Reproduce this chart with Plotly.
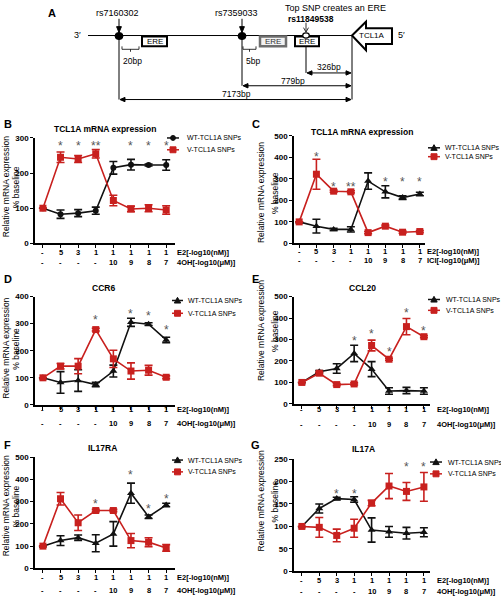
import plotly.graph_objects as go

W, H = 501, 600
def X(p): return p / W
def Y(p): return 1 - p / H

FONT = "Liberation Sans, Arial, sans-serif"
RED = "#c8201e"
BLACK = "#111111"

# ---------------- data ----------------
row1 = ["-", "5", "3", "1", "1", "1", "1", "1"]
row2 = ["-", "-", "-", "-", "10", "9", "8", "7"]
idx = list(range(8))

series_names = ["WT-TCL1A SNPs", "V-TCL1A SNPs"]

b_wt = [100, 83, 86, 93, 215, 224, 223, 223]
b_wt_err = [None, 12, 10, 10, 18, 15, 3, 15]
b_v = [100, 245, 240, 255, 122, 98, 100, 95]
b_v_err = [None, 15, 10, 12, 15, 8, 10, 12]
b_star_x = [1, 2, 3, 5, 6, 7]
b_star_y = [285, 285, 285, 285, 285, 285]
b_star_t = ["*", "*", "**", "*", "*", "*"]

c_wt = [100, 80, 65, 65, 290, 240, 213, 230]
c_wt_err = [None, 32, 5, 12, 38, 28, 8, 8]
c_v = [100, 322, 243, 240, 50, 80, 52, 55]
c_v_err = [None, 70, 5, 5, 5, 5, 5, 5]
c_star_x = [1, 2, 3, 5, 6, 7]
c_star_y = [418, 275, 275, 300, 300, 300]
c_star_t = ["*", "*", "**", "*", "*", "*"]

d_wt = [100, 83, 90, 75, 125, 305, 298, 240]
d_wt_err = [None, 40, 40, 8, 22, 15, 5, 10]
d_v = [100, 143, 143, 278, 170, 125, 128, 102]
d_v_err = [None, 10, 28, 5, 32, 30, 18, 5]
d_star_x = [3, 5, 6, 7]
d_star_y = [323, 345, 341, 289]
d_star_t = ["*", "*", "*", "*"]

e_wt = [100, 150, 165, 235, 162, 60, 62, 60]
e_wt_err = [None, 5, 22, 38, 35, 15, 15, 15]
e_v = [100, 143, 90, 93, 272, 208, 360, 313]
e_v_err = [None, 5, 5, 5, 25, 5, 38, 5]
e_star_x = [3, 4, 5, 6, 7]
e_star_y = [309, 340, 256, 439, 355]
e_star_t = ["*", "*", "*", "*", "*"]

f_wt = [100, 125, 138, 113, 155, 338, 232, 285]
f_wt_err = [None, 22, 12, 38, 55, 45, 8, 8]
f_v = [100, 313, 205, 260, 260, 125, 118, 92]
f_v_err = [None, 28, 35, 5, 5, 32, 20, 15]
f_star_x = [3, 5, 6, 7]
f_star_y = [301, 434, 279, 326]
f_star_t = ["*", "*", "*", "*"]

g_wt = [100, 140, 162, 160, 92, 88, 85, 87]
g_wt_err = [None, 10, 3, 6, 27, 12, 13, 10]
g_v = [100, 98, 80, 96, 152, 190, 178, 188]
g_v_err = [None, 22, 14, 20, 6, 28, 20, 32]
g_star_x = [2, 3, 6, 7]
g_star_y = [180, 180, 240, 240]
g_star_t = ["*", "*", "*", "*"]

# ---------------- panel layout (pixels) ----------------
panels = [
    dict(key="B", title="TCL1A mRNA expression", wt=b_wt, wte=b_wt_err, v=b_v, ve=b_v_err,
         sx=b_star_x, sy=b_star_y, st=b_star_t, ymax=300, dtick=100, wtsym="circle",
         xd=(35, 175), xr=(-0.45, 7.5), yd=(136, 243), titley=127, titlex=105,
         rows=(252, 262), labx=175, r2="4OH[-log10(\u03bcM)]",
         leg=(167, 179, 185, 136, 148), ytx=(6, 16), yty=186, letter=(8, 122)),
    dict(key="C", title="TCL1A mRNA expression", wt=c_wt, wte=c_wt_err, v=c_v, ve=c_v_err,
         sx=c_star_x, sy=c_star_y, st=c_star_t, ymax=500, dtick=100, wtsym="triangle-up",
         xd=(294, 425), xr=(-0.3, 7.3), yd=(134, 243), titley=130, titlex=362,
         rows=(251, 260), labx=425, r2="ICI[-log10(\u03bcM)]",
         leg=(428, 440, 443, 146, 155), ytx=(261, 275), yty=192, letter=(256, 122)),
    dict(key="D", title="CCR6", wt=d_wt, wte=d_wt_err, v=d_v, ve=d_v_err,
         sx=d_star_x, sy=d_star_y, st=d_star_t, ymax=400, dtick=100, wtsym="triangle-up",
         xd=(35, 175), xr=(-0.45, 7.5), yd=(297, 407), titley=288, titlex=103,
         rows=(412, 426), labx=175, r2="4OH[-log10(\u03bcM)]",
         leg=(172, 183, 186, 301, 314), ytx=(6, 16), yty=350, letter=(8, 279)),
    dict(key="E", title="CCL20", wt=e_wt, wte=e_wt_err, v=e_v, ve=e_v_err,
         sx=e_star_x, sy=e_star_y, st=e_star_t, ymax=500, dtick=100, wtsym="triangle-up",
         xd=(294, 430), xr=(-0.45, 7.35), yd=(297, 406), titley=288, titlex=362,
         rows=(412, 427), labx=435, r2="4OH[-log10(\u03bcM)]",
         leg=(428, 440, 444, 300, 311), ytx=(261, 275), yty=332, letter=(256, 279)),
    dict(key="F", title="IL17RA", wt=f_wt, wte=f_wt_err, v=f_v, ve=f_v_err,
         sx=f_star_x, sy=f_star_y, st=f_star_t, ymax=500, dtick=100, wtsym="triangle-up",
         xd=(35, 175), xr=(-0.45, 7.5), yd=(460, 573), titley=451, titlex=102,
         rows=(582, 595), labx=175, r2="4OH[-log10(\u03bcM)]",
         leg=(172, 183, 186, 463, 475), ytx=(6, 16), yty=510, letter=(8, 448)),
    dict(key="G", title="IL17A", wt=g_wt, wte=g_wt_err, v=g_v, ve=g_v_err,
         sx=g_star_x, sy=g_star_y, st=g_star_t, ymax=250, dtick=50, wtsym="triangle-up",
         xd=(294, 430), xr=(-0.45, 7.35), yd=(462, 576), titley=452, titlex=363,
         rows=(585, 596), labx=435, r2="4OH[-log10(\u03bcM)]",
         leg=(430, 442, 446, 465, 477), ytx=(261, 275), yty=505, letter=(256, 448)),
]

fig = go.Figure()
annotations = []
shapes = []

def ann(x, y, text, size=8, bold=False, color="black", xanchor="center", yanchor="middle",
        angle=0, xref="paper", yref="paper", yshift=0):
    annotations.append(dict(x=x, y=y, xref=xref, yref=yref, text=text, showarrow=False,
                            xanchor=xanchor, yanchor=yanchor, textangle=angle, yshift=yshift,
                            font=dict(family=FONT, size=size, color=color,
                                      weight="bold" if bold else "normal")))

def pline(x0, y0, x1, y1, color="black", width=1):
    shapes.append(dict(type="line", xref="paper", yref="paper", x0=X(x0), y0=Y(y0),
                       x1=X(x1), y1=Y(y1), line=dict(color=color, width=width)))

def ppath(pts, fill="black", color="black", width=1, close=True):
    d = "M " + " L ".join(f"{X(a):.5f} {Y(b):.5f}" for a, b in pts) + (" Z" if close else "")
    shapes.append(dict(type="path", xref="paper", yref="paper", path=d,
                       fillcolor=fill if close else None, line=dict(color=color, width=width)))

def prect(x0, y0, x1, y1, color="black", width=1, fill="white"):
    shapes.append(dict(type="rect", xref="paper", yref="paper", x0=X(x0), y0=Y(y0),
                       x1=X(x1), y1=Y(y1), line=dict(color=color, width=width), fillcolor=fill))

def pcirc(cx, cy, rx, ry, color="black", fill="black", width=1):
    shapes.append(dict(type="circle", xref="paper", yref="paper", x0=X(cx - rx), y0=Y(cy - ry),
                       x1=X(cx + rx), y1=Y(cy + ry), line=dict(color=color, width=width), fillcolor=fill))

for n, p in enumerate(panels, start=1):
    xa = "x" if n == 1 else f"x{n}"
    ya = "y" if n == 1 else f"y{n}"
    for vals, errs, color, sym, size, name in [
        (p["wt"], p["wte"], BLACK, p["wtsym"], 6 if p["wtsym"] == "circle" else 7, series_names[0]),
        (p["v"], p["ve"], RED, "square", 7, series_names[1]),
    ]:
        fig.add_trace(go.Scatter(
            x=idx, y=vals, xaxis=xa, yaxis=ya, mode="lines+markers", name=name,
            showlegend=False, cliponaxis=False,
            line=dict(color=color, width=1.6),
            marker=dict(symbol=sym, size=size, color=color),
            error_y=dict(type="data", array=errs, visible=True, color=color,
                         thickness=1.6, width=4),
        ))
    xd, yd = p["xd"], p["yd"]
    fig.layout[("xaxis" if n == 1 else f"xaxis{n}")] = dict(
        domain=[X(xd[0]), X(xd[1])], range=list(p["xr"]), anchor=ya,
        showline=True, linecolor="black", linewidth=1.5, ticks="outside", ticklen=3,
        tickwidth=1.2, tickcolor="black", tickvals=idx, showticklabels=False,
        showgrid=False, zeroline=False, fixedrange=True)
    fig.layout[("yaxis" if n == 1 else f"yaxis{n}")] = dict(
        domain=[Y(yd[1]), Y(yd[0])], range=[0, p["ymax"]], anchor=xa,
        showline=True, linecolor="black", linewidth=1.5, ticks="outside", ticklen=3,
        tickwidth=1.2, tickcolor="black", dtick=p["dtick"], tick0=0,
        tickfont=dict(family=FONT, size=8, color="black", weight="bold"),
        showgrid=False, zeroline=False, fixedrange=True)
    for sx, sy, st in zip(p["sx"], p["sy"], p["st"]):
        ann(sx, sy, st, size=12, color="#555555", xref=xa, yref=ya, yshift=-3)
    for i in idx:
        ann(i, Y(p["rows"][0]), row1[i], size=7.5, bold=True, xref=xa)
        ann(i, Y(p["rows"][1]), row2[i], size=7.5, bold=True, xref=xa)
    ann(X(p["labx"]), Y(p["rows"][0]), "E2[-log10(nM)]", size=7.5, bold=True, xanchor="left")
    ann(X(p["labx"]), Y(p["rows"][1]), p["r2"], size=7.5, bold=True, xanchor="left")
    ann(X(p["titlex"]), Y(p["titley"]), p["title"], size=8.5, bold=True)
    ann(X(p["ytx"][0]), Y(p["yty"]), "Relative mRNA expression", size=8.5, angle=-90)
    ann(X(p["ytx"][1]), Y(p["yty"]), "% baseline", size=8.5, angle=-90)
    ann(X(p["letter"][0]), Y(p["letter"][1]), p["key"], size=11, bold=True)
    lx0, lx1, tx, wy, vy = p["leg"]
    cx = (lx0 + lx1) / 2
    pline(lx0, wy, lx1, wy, BLACK, 1.5)
    if p["wtsym"] == "circle":
        pcirc(cx, wy, 2.5, 2.5, BLACK, BLACK)
    else:
        ppath([(cx - 3.2, wy + 2.6), (cx + 3.2, wy + 2.6), (cx, wy - 3.2)], BLACK, BLACK)
    ann(X(tx), Y(wy), series_names[0], size=7, xanchor="left")
    pline(lx0, vy, lx1, vy, RED, 1.5)
    prect(cx - 3, vy - 3, cx + 3, vy + 3, RED, 1, RED)
    ann(X(tx), Y(vy), series_names[1], size=7, xanchor="left")

# ---------------- panel A schematic ----------------
ann(X(52), Y(9), "A", size=11, bold=True)
ann(X(77), Y(31), "3\u2032", size=9)
ann(X(401), Y(31), "5\u2032", size=9)
pline(88, 32, 352, 32, "black", 1)
pline(119, 32, 119, 97)
pline(242, 32, 242, 83)
pline(306, 34, 306, 70)
pline(352, 32, 352, 97)
def harrow(x0, x1, y):
    pline(x0 + 3, y, x1 - 3, y)
    ppath([(x0, y), (x0 + 5, y - 2.2), (x0 + 5, y + 2.2)])
    ppath([(x1, y), (x1 - 5, y - 2.2), (x1 - 5, y + 2.2)])
harrow(307, 351, 70)
harrow(243, 351, 83)
harrow(120, 351, 97)
ann(X(329), Y(64), "326bp", size=8.5)
ann(X(293), Y(78), "779bp", size=8.5)
ann(X(236), Y(91), "7173bp", size=8.5)
prect(142, 33, 167, 43, "black", 2)
ann(X(154.5), Y(38.5), "ERE", size=8)
prect(260, 33, 286, 43, "#6e6e6e", 2.5, "#f2f2f2")
ann(X(273), Y(38.5), "ERE", size=8, color="#333333")
prect(295, 33, 319, 43, "black", 2)
ann(X(307), Y(38.5), "ERE", size=8)
pcirc(119, 32.5, 4, 3.6)
pcirc(242, 32.5, 4, 3.6)
pcirc(306, 32, 3.3, 2.6, "black", "white", 1.2)
pline(119, 15, 119, 24)
ppath([(119, 29), (116.6, 23), (121.4, 23)])
pline(242, 15, 242, 24)
ppath([(242, 29), (239.6, 23), (244.4, 23)])
pline(306, 19, 306, 28, "black", 0.8)
ppath([(303.5, 24), (306, 28.5), (308.5, 24)], close=False, width=0.8)
ann(X(117), Y(9), "rs7160302", size=9)
ann(X(236), Y(9), "rs7359033", size=9)
ann(X(335), Y(4), "Top SNP creates an ERE", size=9)
ann(X(311), Y(15), "rs11849538", size=8.5, bold=True)
def bracket(x0, x1, y):
    ppath([(x0, y - 3), (x0, y), (x1, y), (x1, y - 3)], close=False, width=0.8)
    pline((x0 + x1) / 2, y, (x0 + x1) / 2, y + 2.5, "black", 0.8)
bracket(122, 139, 46)
ann(X(132), Y(58), "20bp", size=8.5)
bracket(243, 256, 46)
ann(X(253), Y(58), "5bp", size=8.5)
ppath([(352, 32), (366, 18), (366, 24.5), (392, 24.5), (392, 40.5), (366, 40.5), (366, 47)],
      "white", "black", 2)
ann(X(372), Y(32), "TCL1A", size=8)

fig.update_layout(width=W, height=H, margin=dict(l=0, r=0, t=0, b=0),
                  paper_bgcolor="white", plot_bgcolor="rgba(0,0,0,0)",
                  showlegend=False, annotations=annotations, shapes=shapes,
                  font=dict(family=FONT, color="black"))
fig.write_html("out.html", config={"displayModeBar": False},
               post_script="document.body.style.margin='0';document.body.style.overflow='hidden';")
